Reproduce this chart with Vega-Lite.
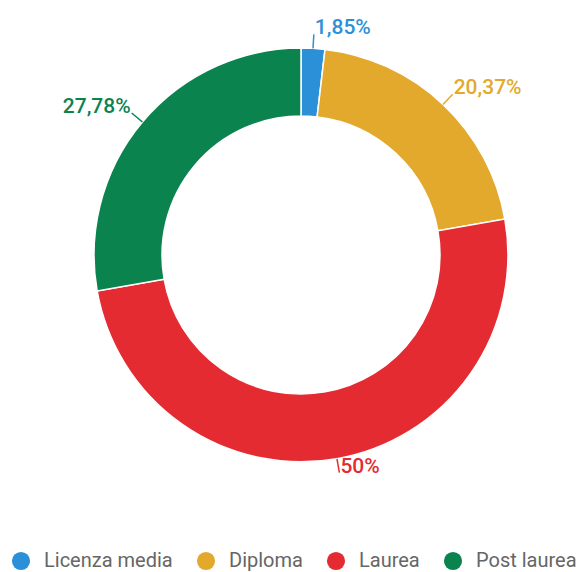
{
  "$schema": "https://vega.github.io/schema/vega-lite/v6.json",
  "width": 556,
  "height": 510,
  "autosize": {"type": "none"},
  "padding": {"left": 23, "top": 0, "right": 0, "bottom": 62},
  "background": "white",
  "config": {"view": {"stroke": null}},
  "data": {
    "values": [
      {"cat": "Licenza media", "v": 1.85, "label": "1,85%", "o": 1},
      {"cat": "Diploma", "v": 20.37, "label": "20,37%", "o": 2},
      {"cat": "Laurea", "v": 50, "label": "50%", "o": 3},
      {"cat": "Post laurea", "v": 27.78, "label": "27,78%", "o": 4}
    ]
  },
  "transform": [
    {"window": [{"op": "sum", "field": "v", "as": "cum"}], "sort": [{"field": "o"}], "frame": [null, 0]},
    {"joinaggregate": [{"op": "sum", "field": "v", "as": "tot"}]},
    {"calculate": "2*PI*(datum.cum - datum.v/2)/datum.tot", "as": "mid"},
    {"calculate": "207*sin(datum.mid)", "as": "x1"},
    {"calculate": "207*cos(datum.mid)", "as": "y1"},
    {"calculate": "221*sin(datum.mid)", "as": "x2"},
    {"calculate": "221*cos(datum.mid)", "as": "y2"}
  ],
  "resolve": {"legend": {"color": "independent"}},
  "layer": [
    {
      "mark": {"type": "arc", "outerRadius": 207, "innerRadius": 139, "stroke": "white", "strokeWidth": 1.5},
      "encoding": {
        "theta": {"field": "v", "type": "quantitative", "stack": true},
        "order": {"field": "o", "type": "quantitative"},
        "color": {
          "field": "cat", "type": "nominal",
          "scale": {"domain": ["Licenza media", "Diploma", "Laurea", "Post laurea"], "range": ["#2b90d8", "#e2a92c", "#e32b31", "#0b834f"]},
          "sort": null,
          "legend": {
            "orient": "none", "legendX": -12, "legendY": 551, "direction": "horizontal",
            "title": null, "symbolType": "circle", "symbolSize": 330, "symbolStrokeWidth": 0,
            "labelFont": "Roboto", "labelFontSize": 20, "labelColor": "#666666",
            "labelOffset": 13, "columnPadding": 23, "padding": 0, "labelLimit": 300
          }
        }
      }
    },
    {
      "mark": {"type": "rule", "strokeWidth": 1.5},
      "encoding": {
        "x": {"field": "x1", "type": "quantitative", "scale": {"domain": [-278, 278], "zero": false, "nice": false}, "axis": null},
        "y": {"field": "y1", "type": "quantitative", "scale": {"domain": [-255, 255], "zero": false, "nice": false}, "axis": null},
        "x2": {"field": "x2"},
        "y2": {"field": "y2"},
        "color": {"field": "cat", "type": "nominal", "legend": null}
      }
    },
    {
      "transform": [{"filter": "datum.x2 >= 0"}],
      "mark": {"type": "text", "align": "left", "baseline": "middle", "dx": 1, "dy": -6, "font": "Roboto", "fontSize": 21, "fontWeight": 500},
      "encoding": {
        "x": {"field": "x2", "type": "quantitative", "scale": {"domain": [-278, 278], "zero": false, "nice": false}, "axis": null},
        "y": {"field": "y2", "type": "quantitative", "scale": {"domain": [-255, 255], "zero": false, "nice": false}, "axis": null},
        "text": {"field": "label"},
        "color": {"field": "cat", "type": "nominal", "legend": null}
      }
    },
    {
      "transform": [{"filter": "datum.x2 < 0"}],
      "mark": {"type": "text", "align": "right", "baseline": "middle", "dx": -1, "dy": -6, "font": "Roboto", "fontSize": 21, "fontWeight": 500},
      "encoding": {
        "x": {"field": "x2", "type": "quantitative", "scale": {"domain": [-278, 278], "zero": false, "nice": false}, "axis": null},
        "y": {"field": "y2", "type": "quantitative", "scale": {"domain": [-255, 255], "zero": false, "nice": false}, "axis": null},
        "text": {"field": "label"},
        "color": {"field": "cat", "type": "nominal", "legend": null}
      }
    }
  ]
}
